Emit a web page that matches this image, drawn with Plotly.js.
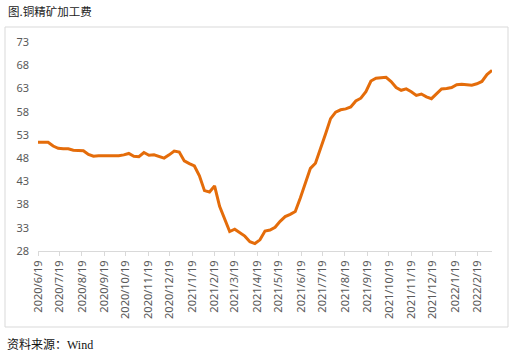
<!DOCTYPE html>
<html>
<head>
<meta charset="utf-8">
<script src="https://cdn.plot.ly/plotly-3.0.1.min.js"></script>
<style>html,body{margin:0;padding:0;background:#fff;}#chart{width:516px;height:357px;}</style>
</head>
<body>
<div id="chart"></div>
<script>
const startDate = '2020-06-19';
const values = [
  51.4, 51.4, 51.4, 50.6, 50.1, 50.0, 50.0, 49.7, 49.7, 49.6,
  48.8, 48.4, 48.5, 48.5, 48.5, 48.5, 48.5, 48.7, 49.0, 48.4,
  48.3, 49.2, 48.6, 48.7, 48.4, 48.0, 48.7, 49.5, 49.3, 47.4,
  46.8, 46.3, 44.2, 41.0, 40.7, 42.0, 37.6, 34.8, 32.2, 32.7,
  32.0, 31.2, 30.0, 29.6, 30.4, 32.3, 32.5, 33.1, 34.4, 35.4,
  35.9, 36.5, 39.4, 42.6, 45.8, 46.9, 49.9, 53.2, 56.5, 57.9,
  58.4, 58.6, 59.0, 60.3, 60.9, 62.3, 64.6, 65.2, 65.3, 65.4,
  64.5, 63.2, 62.6, 62.9, 62.3, 61.5, 61.8, 61.2, 60.8, 61.8,
  62.9, 63.0, 63.2, 63.8, 63.9, 63.8, 63.7, 64.0, 64.5, 66.0,
  66.9
];
const yTicks = [28, 33, 38, 43, 48, 53, 58, 63, 68, 73];
const titleText = '图.铜精矿加工费';
const sourceText = '资料来源：Wind';

// weekly dates (Fridays)
const dates = values.map((v, i) => {
  const d = new Date(startDate + 'T00:00:00Z');
  d.setUTCDate(d.getUTCDate() + 7 * i);
  return d.toISOString().slice(0, 10);
});

const W = 516, H = 357;
const L = 38, R = 24, T = 42, B = 106;
const pw = W - L - R, ph = H - T - B;
const px = x => (x - L) / pw;
const py = y => (H - B - y) / ph;

const trace = {
  x: dates, y: values, type: 'scatter', mode: 'lines',
  line: {color: '#E46C0A', width: 3}, hoverinfo: 'skip'
};

const layout = {
  width: W, height: H,
  margin: {l: L, r: R, t: T, b: B, pad: 0},
  paper_bgcolor: '#fff', plot_bgcolor: '#fff',
  showlegend: false,
  font: {family: '"Noto Sans", "Noto Sans CJK SC", sans-serif', size: 11, color: '#595959'},
  title: {
    text: titleText, xref: 'container', yref: 'container',
    x: 8 / W, xanchor: 'left', y: 1 - 12 / H, yanchor: 'middle',
    font: {family: '"Noto Sans CJK SC", sans-serif', size: 11.5, color: '#222'}
  },
  xaxis: {
    type: 'date',
    range: [dates[0], dates[dates.length - 1]],
    tick0: startDate, dtick: 'M1', tickformat: '%Y/%-m/%-d',
    tickangle: -90, ticks: 'outside', ticklen: 4, tickcolor: '#d9d9d9',
    showline: true, linecolor: '#d9d9d9', linewidth: 1,
    showgrid: false, zeroline: false,
    tickfont: {size: 11, color: '#595959'}
  },
  yaxis: {
    range: [28, 73], tickvals: yTicks, ticktext: yTicks.map(String),
    showgrid: false, zeroline: false, showline: false, ticks: '',
    ticklabelstandoff: 8,
    tickfont: {size: 11, color: '#595959'}
  },
  shapes: [{
    type: 'rect', xref: 'paper', yref: 'paper',
    x0: px(5), x1: px(508), y0: py(327), y1: py(27),
    line: {color: '#d9d9d9', width: 1}, fillcolor: 'rgba(0,0,0,0)', layer: 'below'
  }],
  annotations: [{
    text: sourceText, xref: 'paper', yref: 'paper',
    x: px(5), y: py(345), xanchor: 'left', yanchor: 'middle', showarrow: false,
    font: {family: '"Liberation Serif", "Noto Sans CJK SC", serif', size: 12, color: '#111'}
  }]
};

Plotly.newPlot('chart', [trace], layout, {displayModeBar: false, staticPlot: true});
</script>
</body>
</html>
